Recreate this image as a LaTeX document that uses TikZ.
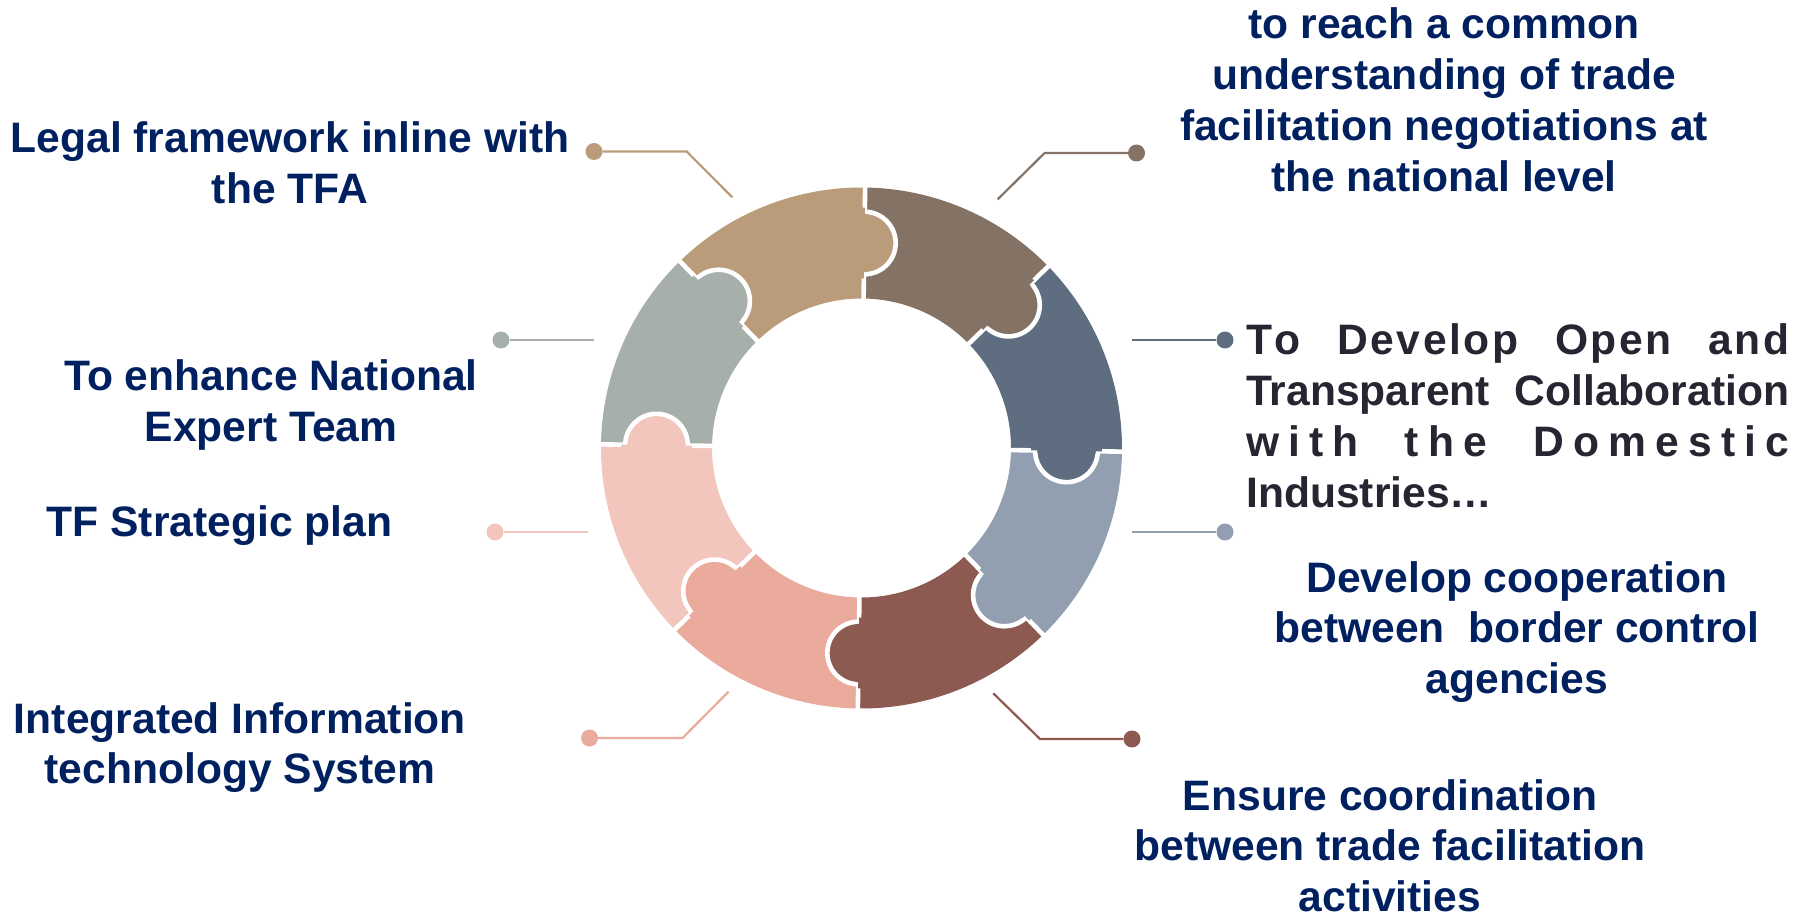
\documentclass[tikz,border=0pt]{standalone}
\usepackage{fontspec}
\setmainfont{Liberation Sans}
\definecolor{cTan}{HTML}{BB9C7A}
\definecolor{cBrown}{HTML}{847265}
\definecolor{cSlate}{HTML}{5E6D7F}
\definecolor{cBlue}{HTML}{929FB0}
\definecolor{cRed}{HTML}{8C5A50}
\definecolor{cSalmon}{HTML}{EAAA9C}
\definecolor{cPink}{HTML}{F2C6BD}
\definecolor{cGreen}{HTML}{A6AFAA}
\definecolor{navy}{HTML}{002060}
\definecolor{ink}{HTML}{262632}
\newcommand\mlines[1]{\begin{tabular}[t]{@{}c@{}}#1\end{tabular}}
\newcommand\lgapx{\hspace{0pt plus 1fill}}
\newcommand\wgapx{\hspace{0pt plus 5fill}}
\newcommand\kx{\kern2.6pt}
\begin{document}
\begin{tikzpicture}[x=1pt,y=-1pt,
  lbl/.style={font=\bfseries\fontsize{42.6}{50.8}\selectfont, text=navy, inner sep=0pt, anchor=base},
  conn/.style={line width=2.2pt},
  dot/.style={circle, inner sep=0pt, minimum size=17pt},
  seam/.style={white, line width=4.6pt}]
\useasboundingbox (0,0) rectangle (1802,917);

% ---------------- ring ----------------
\begin{scope}[shift={(861.5,448)}, y=1pt, rotate=-0.8]
  \foreach \a/\c in {90/cTan,45/cBrown,0/cSlate,-45/cBlue,-90/cRed,-135/cSalmon,180/cPink,135/cGreen}{
    \fill[\c] (\a:149.5) arc[start angle=\a, end angle=\a+45, radius=149.5]
      -- (\a+45:260.5) arc[start angle=\a+45, end angle=\a, radius=260.5] -- cycle;
  }
  \foreach \a in {0,45,...,315}{
    \draw[seam] (\a:140) -- (\a:270);
  }
  \foreach \a/\c in {90/cTan,45/cBrown,0/cSlate,-45/cBlue,-90/cRed,-135/cSalmon,180/cPink,135/cGreen}{
    \begin{scope}[rotate=\a]
      \filldraw[fill=\c, draw=white, line width=4.6pt] (205,0) circle (31.3);
      \begin{scope}
        \clip (160,-2.4) rectangle (250,50);
        \fill[\c] (205,0) circle (29.2);
      \end{scope}
      \begin{scope}
        \clip (160,0) rectangle (250,50);
        \fill[\c] (205,0) circle (35.5);
      \end{scope}
    \end{scope}
  }
\end{scope}

% ---------------- connectors ----------------
\coordinate (s1) at (732.3,197.3); \coordinate (k1) at (686.7,151.5);
\node[dot, fill=cTan] (d1) at (594,151.5) {};
\draw[conn, cTan] (s1) -- (k1) -- (d1);

\coordinate (s2) at (594,340);
\node[dot, fill=cGreen] (d2) at (501,340) {};
\draw[conn, cGreen] (s2) -- (d2);

\coordinate (s3) at (588,532);
\node[dot, fill=cPink] (d3) at (495,532) {};
\draw[conn, cPink] (s3) -- (d3);

\coordinate (s4) at (728.5,691.7); \coordinate (k4) at (682.6,738);
\node[dot, fill=cSalmon] (d4) at (589.5,738) {};
\draw[conn, cSalmon] (s4) -- (k4) -- (d4);

\coordinate (s5) at (997.7,199.3); \coordinate (k5) at (1044.6,153);
\node[dot, fill=cBrown] (d5) at (1136.5,153) {};
\draw[conn, cBrown] (s5) -- (k5) -- (d5);

\coordinate (s6) at (1131.7,340);
\node[dot, fill=cSlate] (d6) at (1225,340) {};
\draw[conn, cSlate] (s6) -- (d6);

\coordinate (s7) at (1131.7,532);
\node[dot, fill=cBlue] (d7) at (1225,532) {};
\draw[conn, cBlue] (s7) -- (d7);

\coordinate (s8) at (993.3,693.3); \coordinate (k8) at (1040,739);
\node[dot, fill=cRed] (d8) at (1132,739) {};
\draw[conn, cRed] (s8) -- (k8) -- (d8);

% ---------------- texts ----------------
\node[lbl] (t1) at (290,152.8) {\mlines{Legal framework inline with\\the TFA}};
\node[lbl] (t2) at (271,390.7) {\mlines{To enhance National\\Expert Team}};
\node[lbl] (t3) at (219.5,536.6) {\mlines{TF Strategic plan}};
\node[lbl] (t4) at (240,733) {\mlines{Integrated Information\\technology System}};
\node[lbl] (t5) at (1444,39) {\mlines{to reach a common\\understanding of trade\\facilitation negotiations at\\the national level}};
\node[lbl, anchor=base west, text=ink] (t6) at (1246,355) {\begin{tabular}[t]{@{}l@{}}%
\makebox[543pt][s]{T\kx o\hfill D\kx e\kx v\kx e\kx l\kx o\kx p\hfill O\kx p\kx e\kx n\hfill a\kx n\kx d}\\
\makebox[543pt][s]{Transparent Collaboration}\\
\makebox[543pt][s]{w\lgapx i\lgapx t\lgapx h\wgapx t\lgapx h\lgapx e\wgapx D\lgapx o\lgapx m\lgapx e\lgapx s\lgapx t\lgapx i\lgapx c}\\
Industries…\end{tabular}};
\node[lbl] (t7) at (1517,592) {\mlines{Develop cooperation\\between\ \ border control\\agencies}};
\node[lbl, align=center, anchor=south] (t8) at (1390,912.4) {Ensure coordination\\between trade facilitation\\activities};
\end{tikzpicture}
\end{document}
